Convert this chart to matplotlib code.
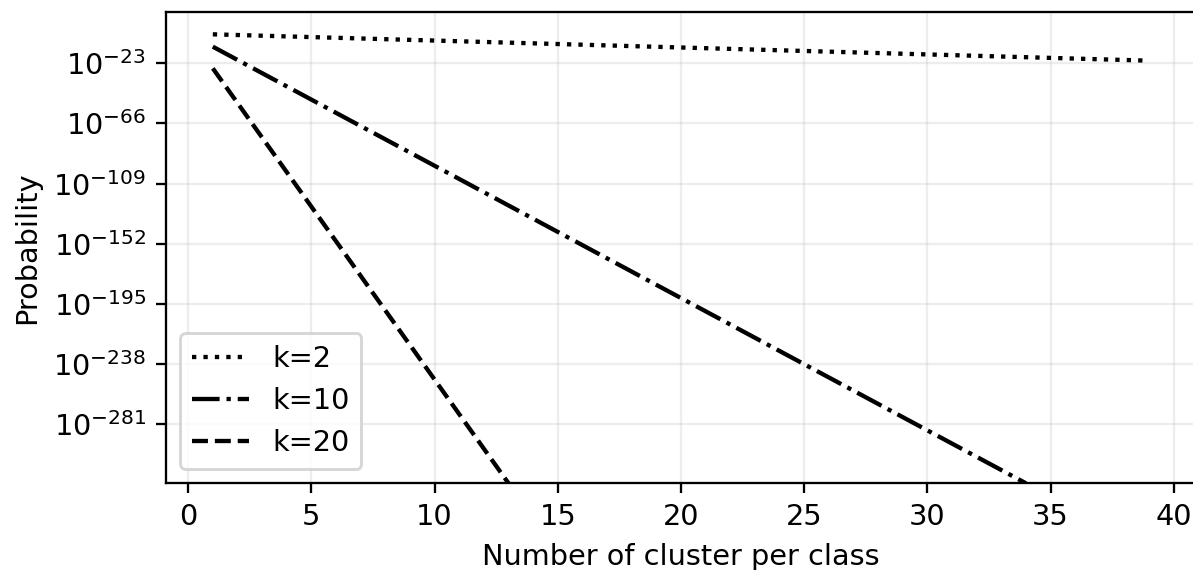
import math
import matplotlib
matplotlib.use("Agg")
import matplotlib.pyplot as plt
from matplotlib.ticker import FixedLocator, FuncFormatter, NullLocator

# Data (straight lines on a log axis)
x_k2 = [1, 39]
p_k2 = [5.5e-3, 7.9e-22]
x_k10 = [1, 34]
p_k10 = [7.9e-12, 5e-324]
x_k20 = [1, 13]
p_k20 = [2.5e-27, 5e-324]

labels = ["k=2", "k=10", "k=20"]
ytick_exponents = [-281, -238, -195, -152, -109, -66, -23]
xticks = [0, 5, 10, 15, 20, 25, 30, 35, 40]

DPI = 207
W, H = 1193, 570
fig = plt.figure(figsize=(W / DPI, H / DPI), dpi=DPI)
left, right, top, bottom = 166, 1196, 12, 483.3
ax = fig.add_axes([left / W, 1 - bottom / H, (right - left) / W, (bottom - top) / H])

ax.plot(x_k2, p_k2, linestyle=":", color="black", label=labels[0])
ax.plot(x_k10, p_k10, linestyle="-.", color="black", label=labels[1])
ax.plot(x_k20, p_k20, linestyle="--", color="black", label=labels[2])

ax.set_yscale("log")
ax.set_xlim(-0.9, 40.9)
ax.set_ylim(5e-324, 10 ** 13.7)

ax.yaxis.set_major_locator(FixedLocator([10.0 ** e for e in ytick_exponents]))
ax.yaxis.set_major_formatter(FuncFormatter(
    lambda v, pos: r"$\mathdefault{10^{%d}}$" % round(math.log10(v))))
ax.yaxis.set_minor_locator(NullLocator())
ax.set_xticks(xticks)

ax.grid(True, alpha=0.22)
ax.set_xlabel("Number of cluster per class")
ax.set_ylabel("Probability")
ax.legend(loc="lower left")

fig.savefig("out.png", dpi=DPI)
